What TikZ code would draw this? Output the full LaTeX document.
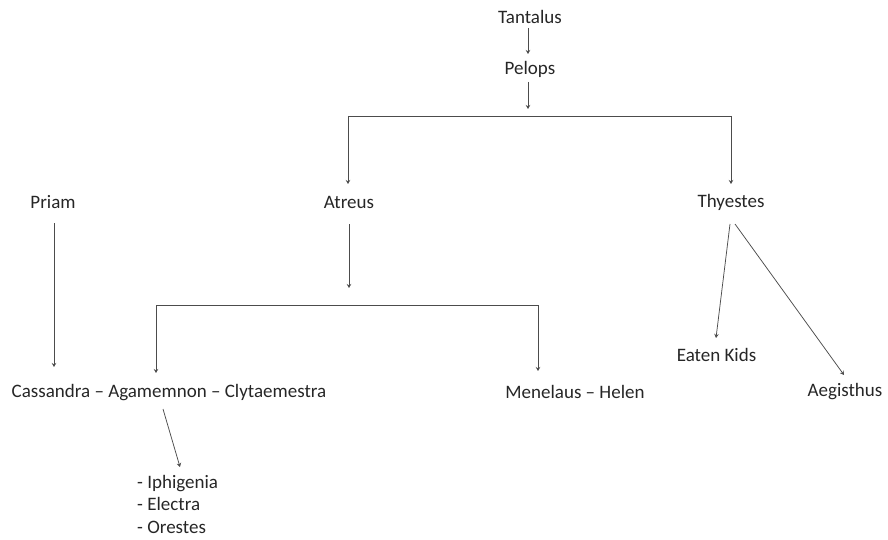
\documentclass[tikz,border=0pt]{standalone}
\usepackage{fontspec}
\setmainfont{Carlito}
\usetikzlibrary{arrows.meta}
\begin{document}
\begin{tikzpicture}[x=1pt,y=-1pt,
  lbl/.style={inner sep=0pt, text=black!85, font=\fontsize{19}{22.5}\selectfont},
  conn/.style={draw=black!70, line width=0.75pt, -{Stealth[length=4pt,width=4.5pt]}},
  bar/.style={draw=black!70, line width=0.75pt}]
\useasboundingbox (0,0) rectangle (888,540);
% nodes
\node[lbl] (tantalus) at (530,17) {Tantalus};
\node[lbl] (pelops) at (530,69) {Pelops};
\node[lbl] (priam) at (53,202) {Priam};
\node[lbl] (atreus) at (349,202) {Atreus};
\node[lbl] (thyestes) at (731,202) {Thyestes};
\node[lbl] (cag) at (169,393) {Cassandra – Agamemnon – Clytaemestra};
\node[lbl] (menhel) at (575,392) {Menelaus – Helen};
\node[lbl] (eaten) at (716.5,355) {Eaten Kids};
\node[lbl] (aeg) at (845,392) {Aegisthus};
\node[lbl, align=left, anchor=north west] (kids) at (137,475) {- Iphigenia\\- Electra\\- Orestes};
% coordinates
\coordinate (tp1) at (528,28); \coordinate (tp2) at (528,54);
\coordinate (pe1) at (528,82); \coordinate (pe2) at (528,109);
\coordinate (b1l) at (348,116); \coordinate (b1r) at (731,116);
\coordinate (b1le) at (348,184); \coordinate (b1re) at (731,184);
\coordinate (at1) at (349,224); \coordinate (at2) at (349,288);
\coordinate (b2l) at (156,305); \coordinate (b2r) at (538,305);
\coordinate (b2le) at (156,373); \coordinate (b2re) at (538,371);
\coordinate (pr1) at (54,223); \coordinate (pr2) at (54,367);
\coordinate (ag1) at (163,409); \coordinate (ag2) at (180,467);
\coordinate (th1) at (730,224); \coordinate (th2) at (716,338);
\coordinate (th3) at (735,224); \coordinate (th4) at (844,375);
% connectors
\draw[conn] (tp1) -- (tp2);
\draw[conn] (pe1) -- (pe2);
\draw[bar] (b1l) -- (b1r);
\draw[conn] (b1l) -- (b1le);
\draw[conn] (b1r) -- (b1re);
\draw[conn] (at1) -- (at2);
\draw[bar] (b2l) -- (b2r);
\draw[conn] (b2l) -- (b2le);
\draw[conn] (b2r) -- (b2re);
\draw[conn] (pr1) -- (pr2);
\draw[conn] (ag1) -- (ag2);
\draw[conn] (th1) -- (th2);
\draw[conn] (th3) -- (th4);
\end{tikzpicture}
\end{document}
